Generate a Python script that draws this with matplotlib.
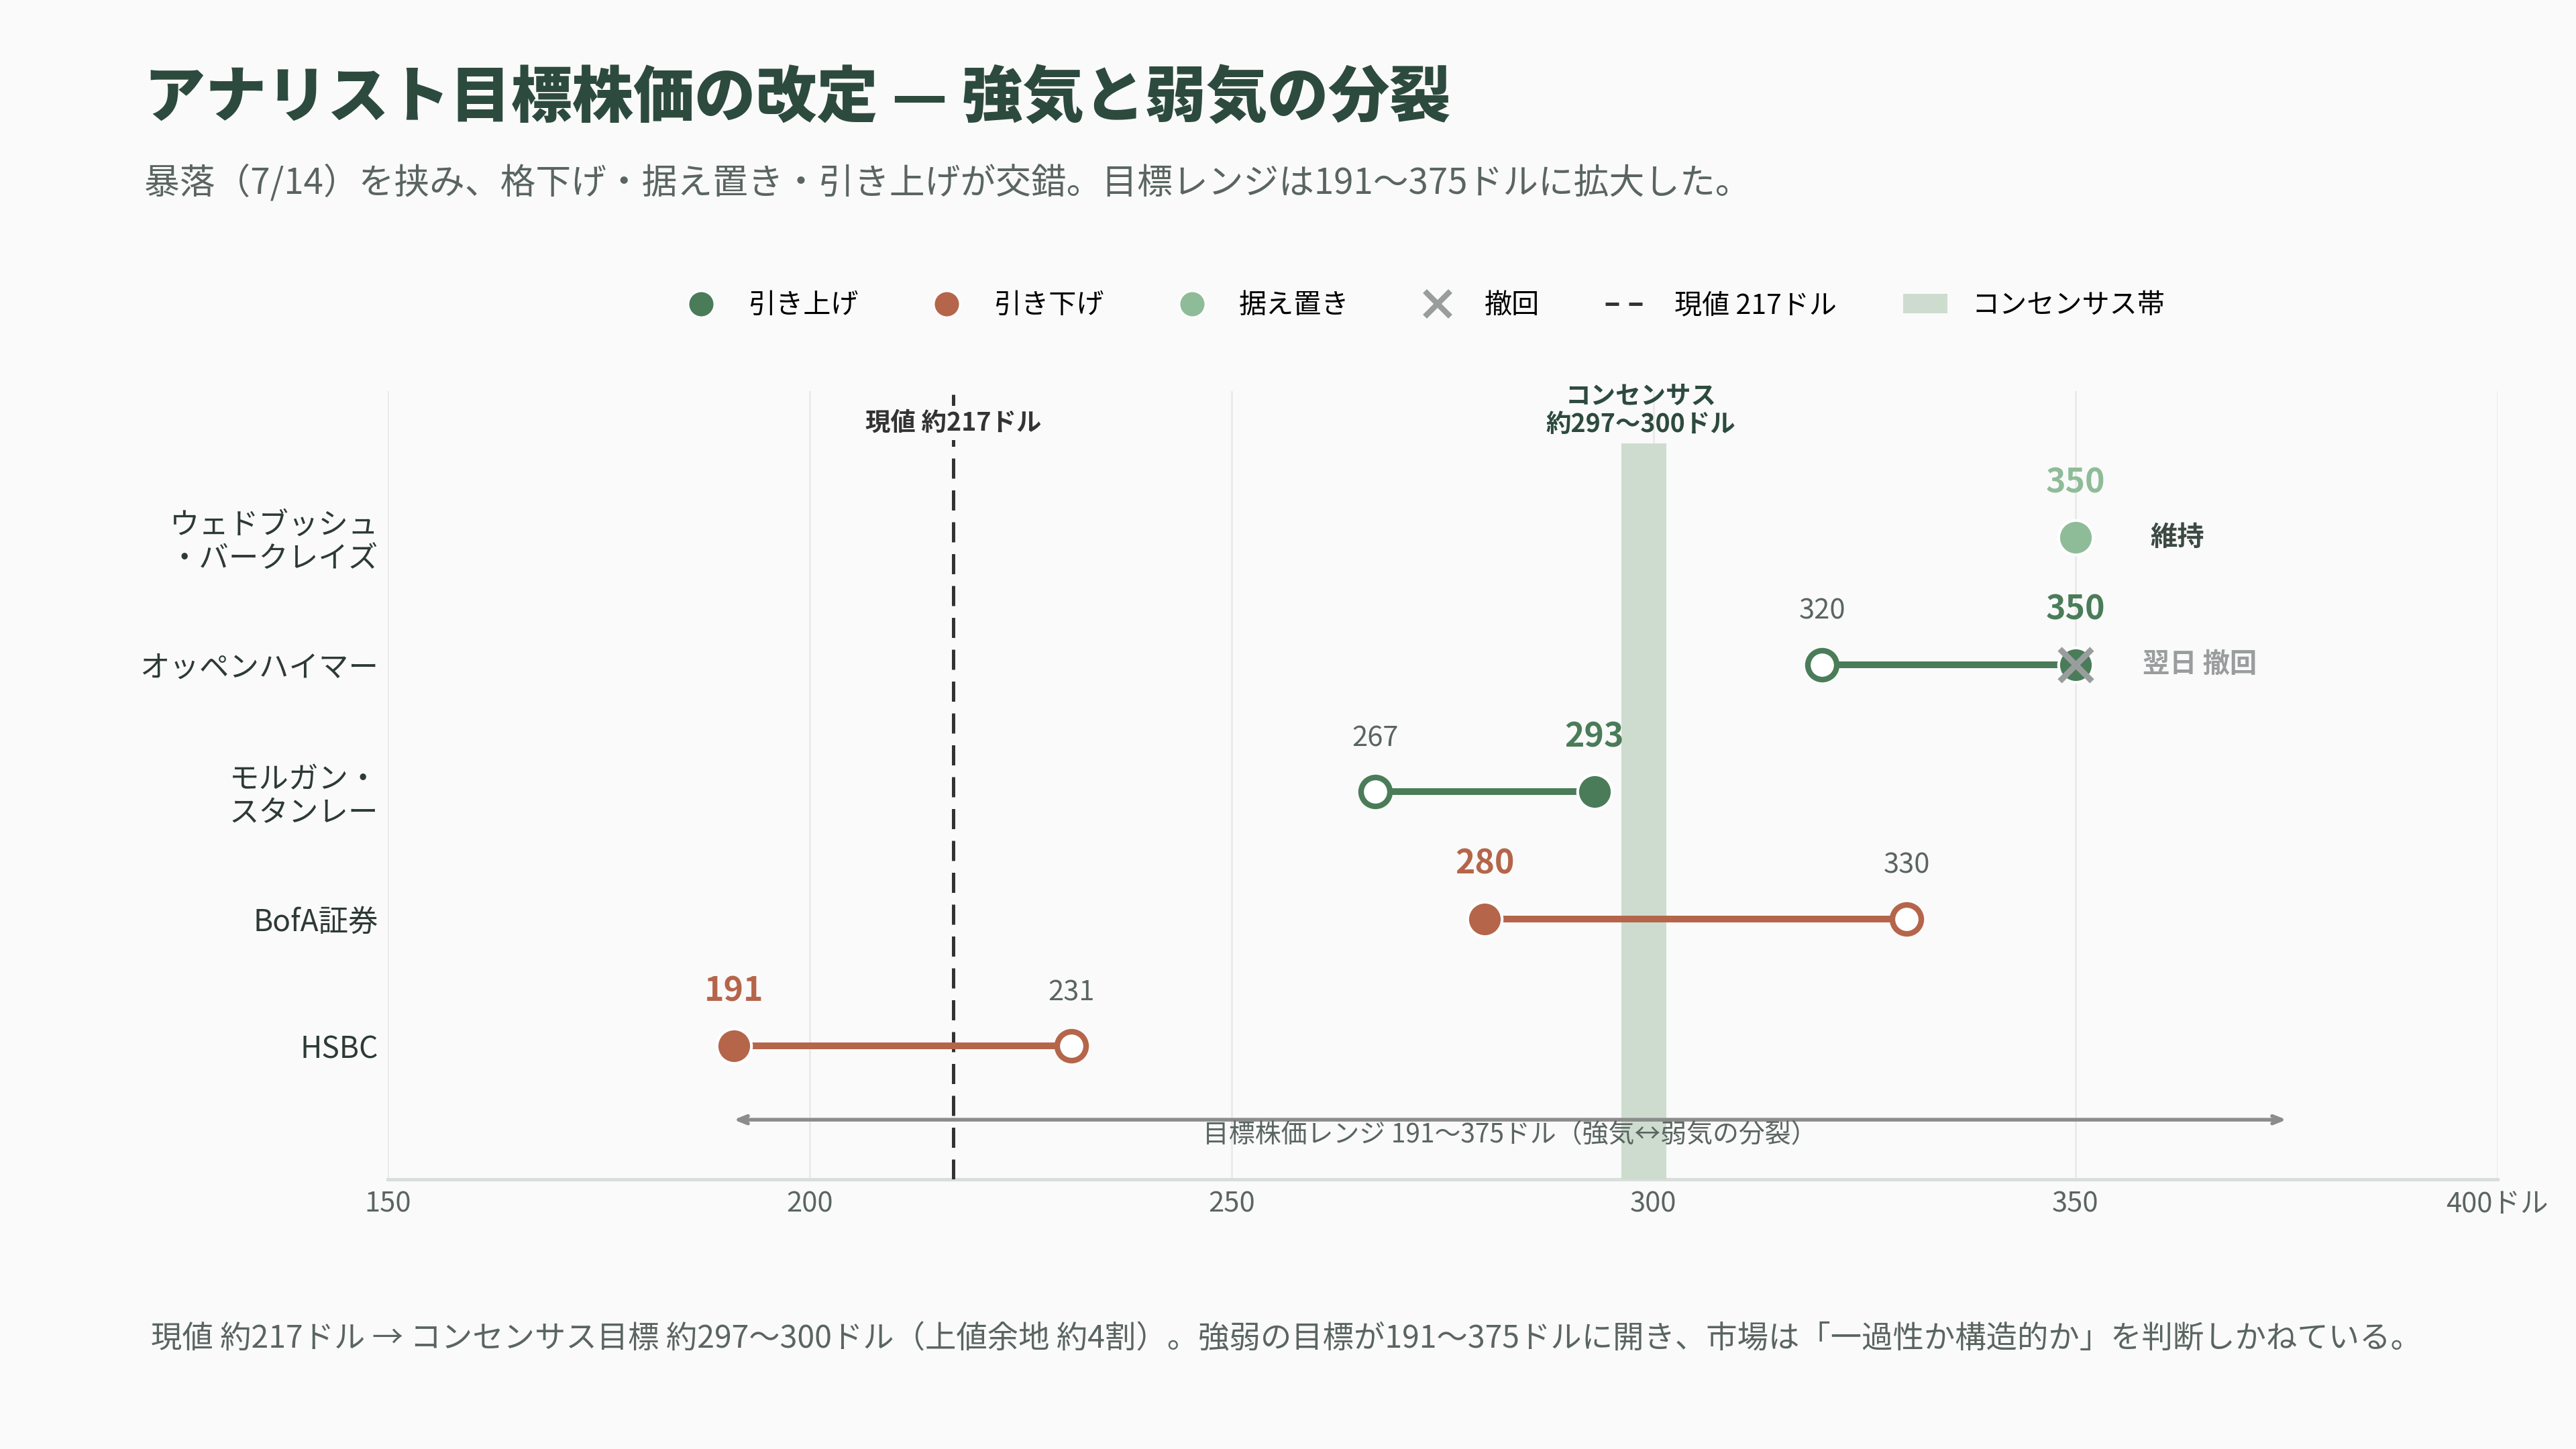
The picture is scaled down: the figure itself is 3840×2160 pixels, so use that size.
import matplotlib
matplotlib.use("Agg")
import matplotlib.pyplot as plt
from matplotlib.lines import Line2D
from matplotlib.patches import Patch

plt.rcParams['font.family'] = ['Noto Sans CJK JP', 'DejaVu Sans']

# データ（上から順）
firms = ['ウェドブッシュ\n・バークレイズ', 'オッペンハイマー', 'モルガン・\nスタンレー', 'BofA証券', 'HSBC']
old_target = [350, 320, 267, 330, 231]
new_target = [350, 350, 293, 280, 191]
action = ['hold', 'up', 'up', 'down', 'down']
withdrawn = [False, True, False, False, False]
notes = ['維持', '翌日 撤回', '', '', '']
current_price = 217
consensus_lo, consensus_hi = 297, 300
range_lo, range_hi = 191, 375
xticks = [150, 200, 250, 300, 350, 400]
xtick_labels = ['150', '200', '250', '300', '350', '400ドル']

# 色
BG = '#fafafa'
GREEN = '#4a7c59'
ORANGE = '#b5654a'
LIGHT = '#8fbc98'
GRAY = '#9a9d9d'
BAND = '#cddccf'
TEXT = '#5a6560'
DARK = '#2d4a3e'
colors = {'up': GREEN, 'down': ORANGE, 'hold': LIGHT}

fig = plt.figure(figsize=(19.2, 10.8), dpi=200, facecolor=BG)
ax = fig.add_axes([0.1505, 0.186, 0.819, 0.544])
ax.set_facecolor(BG)

n = len(firms)
ys = [n - 1 - i for i in range(n)]

ax.set_xlim(150, 400)
ax.set_ylim(-1.05, 5.15)

# グリッド
for xt in xticks:
    ax.axvline(xt, color='#e6e9e8', lw=0.9, zorder=0)

# コンセンサス帯
ax.fill_betweenx([-1.05, 4.74], consensus_lo - 0.8, consensus_hi + 1.5,
                 color=BAND, lw=0, zorder=1)
ax.text((consensus_lo + consensus_hi) / 2, 5.0, 'コンセンサス\n約297〜300ドル',
        ha='center', va='center', fontsize=13.5, fontweight='bold', color=DARK,
        linespacing=1.1, clip_on=False, zorder=5)

# 現値ライン
ax.axvline(current_price, color='#333333', lw=1.8, dashes=(6, 3.5), zorder=2)
ax.text(current_price, 4.9, '現値 約217ドル', ha='center', va='center',
        fontsize=13.5, fontweight='bold', color='#333333', zorder=6,
        bbox=dict(boxstyle='square,pad=0.15', fc=BG, ec='none'))

# ダンベル
for y, o, nw, act, wd, note in zip(ys, old_target, new_target, action, withdrawn, notes):
    c = colors[act]
    if act != 'hold':
        ax.plot([o, nw], [y, y], color=c, lw=3.6, solid_capstyle='butt', zorder=3)
        ax.plot(o, y, 'o', ms=15.5, mfc='white', mec=c, mew=3.0, zorder=4)
        ax.text(o, y + 0.42, str(o), ha='center', va='center', fontsize=15, color=TEXT, zorder=5)
    ax.plot(nw, y, 'o', ms=18.5, mfc=c, mec='white', mew=1.5, zorder=4)
    ax.text(nw, y + 0.43, str(nw), ha='center', va='center', fontsize=18,
            fontweight='bold', color=c, zorder=5)
    if wd:
        ax.plot(nw, y, 'x', ms=17, mec=GRAY, mew=3.2, zorder=5)
    if note:
        ax.annotate(note, (nw, y), xytext=(36 if wd else 40, 0), textcoords='offset points',
                    ha='left', va='center', fontsize=14.5, fontweight='bold',
                    color=GRAY if wd else '#3d4a44')

# レンジ矢印
ax.annotate('', xy=(range_hi, -0.58), xytext=(range_lo, -0.58),
            arrowprops=dict(arrowstyle='<->,head_length=0.5,head_width=0.2',
                            color='#8c8c8c', lw=2.0, shrinkA=0, shrinkB=0), zorder=3)
ax.text((range_lo + range_hi) / 2, -0.7, '目標株価レンジ 191〜375ドル（強気↔弱気の分裂）',
        ha='center', va='center', fontsize=14, color=TEXT, zorder=5)

# 軸
ax.set_yticks(ys)
ax.set_yticklabels(firms, fontsize=16, color='#2d3a35', linespacing=1.1)
ax.set_xticks(xticks)
ax.set_xticklabels(xtick_labels, fontsize=15, color=TEXT)
ax.tick_params(axis='both', length=0)
ax.tick_params(axis='x', pad=6)
ax.tick_params(axis='y', pad=5)
for s in ['top', 'right', 'left']:
    ax.spines[s].set_visible(False)
ax.spines['bottom'].set_color('#d8deda')
ax.spines['bottom'].set_linewidth(1.8)
ax.spines['bottom'].set_zorder(0)

# タイトル
fig.text(0.056, 0.932, 'アナリスト目標株価の改定 — 強気と弱気の分裂', fontsize=32.8,
         fontweight='black', color=DARK, va='center', ha='left')
fig.text(0.056, 0.874, '暴落（7/14）を挟み、格下げ・据え置き・引き上げが交錯。目標レンジは191〜375ドルに拡大した。',
         fontsize=19, color=TEXT, va='center', ha='left')

# 凡例
handles = [
    Line2D([], [], marker='o', ls='none', ms=14, mfc=GREEN, mec='white', label='引き上げ'),
    Line2D([], [], marker='o', ls='none', ms=14, mfc=ORANGE, mec='white', label='引き下げ'),
    Line2D([], [], marker='o', ls='none', ms=14, mfc=LIGHT, mec='white', label='据え置き'),
    Line2D([], [], marker='x', ls='none', ms=14, mec=GRAY, mew=3, label='撤回'),
    Line2D([], [], color='#333333', lw=1.8, dashes=(4, 3), label='現値 217ドル'),
    Patch(facecolor=BAND, edgecolor='none', label='コンセンサス帯'),
]
fig.legend(handles=handles, loc='center', bbox_to_anchor=(0.552, 0.789), ncol=6,
           frameon=False, fontsize=14.8, handlelength=1.6, handletextpad=0.9,
           columnspacing=2.4)

# 注記
fig.text(0.0586, 0.076,
         '現値 約217ドル → コンセンサス目標 約297〜300ドル（上値余地 約4割）。強弱の目標が191〜375ドルに開き、市場は「一過性か構造的か」を判断しかねている。',
         fontsize=16.7, color=TEXT, va='center', ha='left')

fig.savefig('out.png', dpi=200, facecolor=BG)
